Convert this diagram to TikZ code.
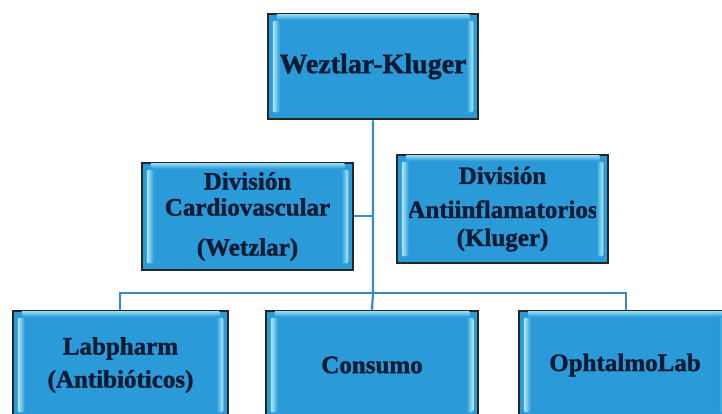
\documentclass[tikz,border=0pt]{standalone}
\usepackage{fontspec}
\setmainfont{Liberation Serif}
\newfontfamily\boxfont[FakeBold=1.2]{Liberation Serif}
\definecolor{boxfill}{HTML}{2A9AD8}
\definecolor{boxline}{HTML}{262626}
\definecolor{glossc}{HTML}{B4ECFA}
\definecolor{txt}{HTML}{0B1A33}
\definecolor{conn}{HTML}{3A8BBD}
\tikzset{
  orgbox/.style={draw=boxline, line width=2.5pt, fill=boxfill, text=txt,
    font=\boxfont\bfseries\fontsize{25}{28}\selectfont, align=center, inner sep=0pt,
    minimum width=211pt, minimum height=107pt},
  wire/.style={draw=conn, line width=2.2pt},
}
\newcommand{\glossbox}[1]{%
  \shade[left color=glossc, right color=boxfill, rounded corners=2pt]
    ([xshift=6pt,yshift=-8pt]#1.north west) rectangle ([xshift=13pt,yshift=8pt]#1.south west);
  \shade[left color=boxfill, right color=glossc, rounded corners=2pt]
    ([xshift=-13pt,yshift=-8pt]#1.north east) rectangle ([xshift=-6pt,yshift=8pt]#1.south east);
  \shade[top color=glossc!70!boxfill, bottom color=boxfill]
    ([xshift=10pt,yshift=-2pt]#1.north west) rectangle ([xshift=-10pt,yshift=-7pt]#1.north east);
}
\begin{document}
\begin{tikzpicture}[x=1pt,y=-1pt]
\useasboundingbox (0,0) rectangle (722,413);
\clip (0,0) rectangle (722,413);
\coordinate (busL) at (120,293);
\coordinate (busM) at (373,293);
\coordinate (busR) at (626,293);
\coordinate (midJ) at (373,216);
\node[orgbox, minimum width=210pt, minimum height=105pt, font=\boxfont\bfseries\fontsize{28}{32}\selectfont] (top) at (373,66.5) {Weztlar-Kluger};
\node[orgbox] (card) at (247.5,216.5) {División\\[-2pt]Cardiovascular\\[12pt](Wetzlar)};
\node[orgbox, minimum height=108pt] (anti) at (502.5,209) {División\\[6pt]Antiinflamatorios\\[0pt](Kluger)};
\node[orgbox, minimum width=215pt, minimum height=108pt] (lab) at (120.5,365) {Labpharm\\[5pt](Antibióticos)};
\node[orgbox, minimum width=212pt, minimum height=108pt] (cons) at (372,365) {Consumo};
\node[orgbox, minimum width=212pt, minimum height=108pt] (oph) at (625,365) {OphtalmoLab};
\draw[wire] (top.south) -- (busM) -- (cons.north);
\draw[wire] (card.east |- midJ) -- (midJ);
\draw[wire] (lab.north -| busL) -- (busL) -- (busR) -- (oph.north -| busR);
\foreach \n in {top,card,anti,lab,cons,oph}{\glossbox{\n}}
\end{tikzpicture}
\end{document}
